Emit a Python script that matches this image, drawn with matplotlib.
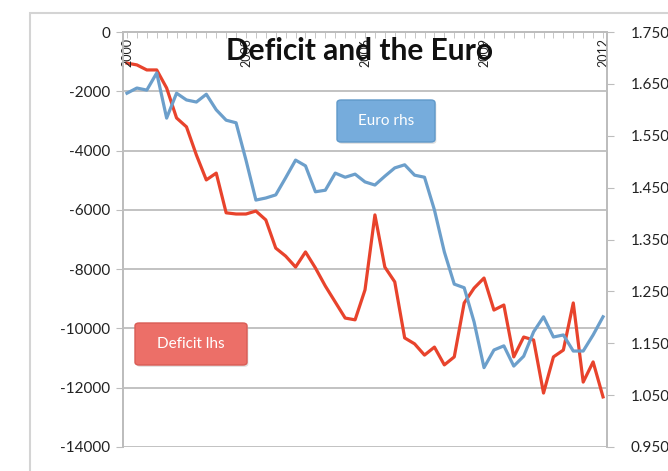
import numpy as np
import matplotlib
matplotlib.use("Agg")
import matplotlib.pyplot as plt
from matplotlib.patches import FancyBboxPatch, Rectangle

plt.rcParams['font.family'] = ['Lato', 'DejaVu Sans']

# quarterly, 2000Q1 .. 2012Q1
deficit = [-1050, -1110, -1280, -1280, -1890, -2900, -3200, -4150, -4990, -4760,
           -6100, -6140, -6140, -6040, -6340, -7290, -7560, -7930, -7420, -7960,
           -8570, -9110, -9650, -9710, -8700, -6170, -7930, -8430, -10320, -10520,
           -10900, -10630, -11230, -10960, -9140, -8640, -8300, -9380, -9210, -10960,
           -10290, -10390, -12180, -10960, -10730, -9140, -11810, -11130, -12310]
euro = [1.632, 1.642, 1.638, 1.671, 1.584, 1.632, 1.619, 1.615, 1.630, 1.600,
        1.580, 1.575, 1.503, 1.426, 1.430, 1.436, 1.469, 1.503, 1.492, 1.442,
        1.445, 1.478, 1.470, 1.476, 1.461, 1.455, 1.472, 1.488, 1.494, 1.474,
        1.470, 1.407, 1.326, 1.264, 1.257, 1.191, 1.103, 1.137, 1.145, 1.106,
        1.125, 1.172, 1.201, 1.162, 1.166, 1.135, 1.135, 1.166, 1.201]
year_labels = ['2000', '2003', '2006', '2009', '2012']

W, H = 668, 471
fig = plt.figure(figsize=(W / 100, H / 100), dpi=100)

def fx(px):
    return px / W

def fy(py):
    return 1 - py / H

# chart area frame
fig.add_artist(Rectangle((fx(30), -0.2), 1.2, fy(13) + 0.2, transform=fig.transFigure,
                         fill=False, ec='#d4d4d4', lw=1.5))

ax = fig.add_axes([fx(123), fy(447), fx(607) - fx(123), fy(32) - fy(447)])
ax2 = ax.twinx()

x = np.arange(len(deficit))
ax.plot(x, deficit, color='#e8432c', lw=2.3, zorder=3)
ax2.plot(x, euro, color='#6c9fcb', lw=2.3, zorder=3)

ax.set_xlim(-0.4, len(x) - 1 + 0.4)
ax.set_ylim(-14000, 0)
ax.set_yticks(np.arange(-14000, 1, 2000))
ax.set_yticklabels([str(v) for v in range(-14000, 1, 2000)])
ax.grid(axis='y', color='#bdbdbd', lw=1.3)
ax.set_axisbelow(True)

ax2.set_ylim(0.95, 1.75)
rt = np.arange(0.95, 1.751, 0.1)
ax2.set_yticks(rt)
ax2.set_yticklabels([f'{v:.4f}' for v in rt])

for a in (ax, ax2):
    for s in a.spines.values():
        s.set_color('#bdbdbd')
        s.set_linewidth(1.3)
    a.spines['bottom'].set_visible(False)

ax.tick_params(axis='y', direction='out', length=5, color='#bdbdbd', labelsize=11,
               labelcolor='#222222', pad=4)
ax2.tick_params(axis='y', direction='out', length=5, color='#bdbdbd', labelsize=11,
                labelcolor='#222222', pad=12)

# year axis along the top, labels inside the plot
ax.xaxis.tick_top()
ax.set_xticks(x, minor=True)
ax.set_xticks([])
ax.tick_params(axis='x', which='minor', direction='in', length=4, color='#bdbdbd',
               top=True, bottom=False)
for i, lab in enumerate(year_labels):
    ax.text(i * 12, 0.985, lab, transform=ax.get_xaxis_transform(), rotation=90,
            ha='center', va='top', fontsize=9, color='#222222', zorder=4)

fig.text(fx(360), fy(51), 'Deficit and the Euro', ha='center', va='center',
         fontsize=21.5, fontweight='bold', color='#111111', zorder=10)

def label_box(x0, y0, x1, y1, text, fc, ec):
    fig.add_artist(FancyBboxPatch((fx(x0) + 0.002, fy(y1) - 0.004), fx(x1 - x0), fy(y0) - fy(y1),
                                  boxstyle='round,pad=0,rounding_size=0.006',
                                  transform=fig.transFigure, fc='#cccccc', ec='none',
                                  alpha=0.6, zorder=8))
    fig.add_artist(FancyBboxPatch((fx(x0), fy(y1)), fx(x1 - x0), fy(y0) - fy(y1),
                                  boxstyle='round,pad=0,rounding_size=0.006',
                                  transform=fig.transFigure, fc=fc, ec=ec, lw=1, zorder=9))
    fig.text(fx((x0 + x1) / 2), fy((y0 + y1) / 2), text, ha='center', va='center',
             color='white', fontsize=11, zorder=10)

label_box(337, 100, 435, 142, 'Euro rhs', '#76acdc', '#5f98c9')
label_box(135, 323, 247, 365, 'Deficit lhs', '#ec6f68', '#d95c55')

fig.savefig('out.png', dpi=100, facecolor='white')
